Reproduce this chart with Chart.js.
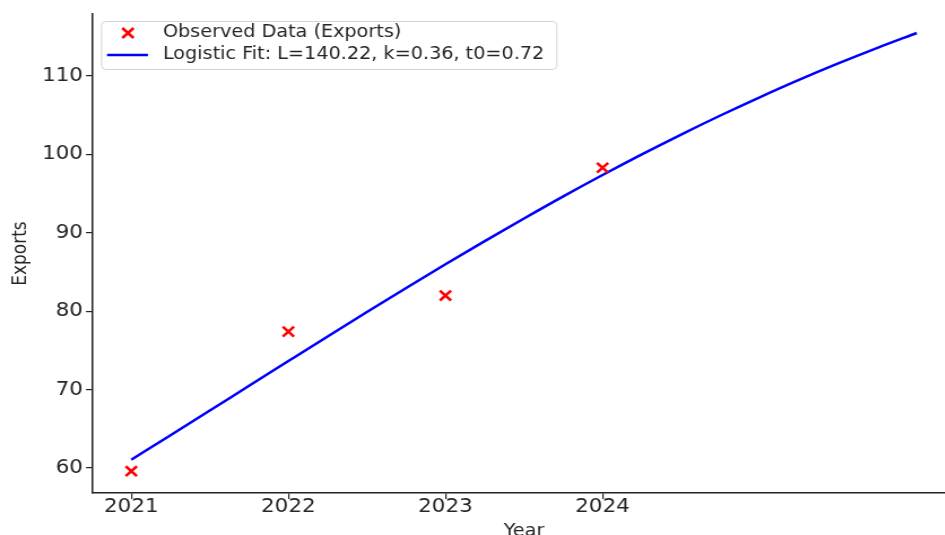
<!DOCTYPE html>
<html>
<head>
<meta charset="utf-8">
<script src="https://cdn.jsdelivr.net/npm/chart.js@4/dist/chart.umd.min.js"></script>
<style>
  html, body { margin: 0; padding: 0; background: #ffffff; overflow: hidden; }
  /* drawing surface is widened on screen; the right margin runs past the window */
  canvas { display: block; width: 956px !important; height: 545px !important; }
</style>
</head>
<body>
<canvas id="chart" width="846" height="545"></canvas>
<script>
// Observed exports per year
const obsYears = [2021, 2022, 2023, 2024];
const obsExports = [59.6, 77.4, 82.0, 98.3];

// Logistic fit curve, sampled every quarter year
const fitYears = [2021, 2021.25, 2021.5, 2021.75, 2022, 2022.25, 2022.5, 2022.75,
                  2023, 2023.25, 2023.5, 2023.75, 2024, 2024.25, 2024.5, 2024.75,
                  2025, 2025.25, 2025.5, 2025.75, 2026];
const fitExports = [61.07, 64.19, 67.34, 70.49, 73.64, 76.78, 79.89, 82.96,
                    85.98, 88.94, 91.83, 94.65, 97.37, 100.00, 102.53, 104.96,
                    107.28, 109.50, 111.60, 113.59, 115.48];

// Axis ticks
const xTicks = [2021, 2022, 2023, 2024];
const yTicks = [60, 70, 80, 90, 100, 110];

const obsLabel = 'Observed Data (Exports)';
const fitLabel = 'Logistic Fit: L=140.22, k=0.36, t0=0.72';

const FONT = "'DejaVu Sans', 'Liberation Sans', sans-serif";
const TEXT = '#262626';

// Boxed legend in the upper-left corner of the plot area
const boxLegend = {
  id: 'boxLegend',
  afterDraw(chart) {
    const ctx = chart.ctx;
    const ds = chart.data.datasets;
    const x0 = 89.3, y0 = 21, w = 403, h = 48, r = 4;
    ctx.save();
    ctx.beginPath();
    ctx.roundRect(x0 + 0.5, y0 + 0.5, w, h, r);
    ctx.fillStyle = 'rgba(255,255,255,0.85)';
    ctx.fill();
    ctx.strokeStyle = '#d4d4d4';
    ctx.lineWidth = 1;
    ctx.stroke();

    ctx.font = '17px ' + FONT;
    ctx.fillStyle = TEXT;
    ctx.textBaseline = 'middle';
    ctx.textAlign = 'left';

    const r1 = 33, r2 = 55, mx = 113.2, tx = 144.2;
    // row 1: cross marker
    ctx.strokeStyle = ds[0].borderColor;
    ctx.lineWidth = 2.5;
    ctx.beginPath();
    ctx.moveTo(mx - 5, r1 - 5); ctx.lineTo(mx + 5, r1 + 5);
    ctx.moveTo(mx + 5, r1 - 5); ctx.lineTo(mx - 5, r1 + 5);
    ctx.stroke();
    ctx.fillText(ds[0].label, tx, r1);

    // row 2: line sample
    ctx.strokeStyle = ds[1].borderColor;
    ctx.lineWidth = 2.5;
    ctx.beginPath();
    ctx.moveTo(94.7, r2); ctx.lineTo(130.9, r2);
    ctx.stroke();
    ctx.fillText(ds[1].label, tx, r2);
    ctx.restore();
  }
};

new Chart(document.getElementById('chart'), {
  data: {
    datasets: [
      {
        type: 'scatter',
        label: obsLabel,
        data: obsYears.map((y, i) => ({ x: y, y: obsExports[i] })),
        pointStyle: 'crossRot',
        pointRadius: 7,
        pointHoverRadius: 7,
        borderColor: '#ff0000',
        backgroundColor: '#ff0000',
        pointBorderWidth: 2.5
      },
      {
        type: 'line',
        label: fitLabel,
        data: fitYears.map((y, i) => ({ x: y, y: fitExports[i] })),
        borderColor: '#0000ff',
        backgroundColor: '#0000ff',
        borderWidth: 2.5,
        pointRadius: 0,
        cubicInterpolationMode: 'monotone',
        fill: false
      }
    ]
  },
  options: {
    responsive: false,
    animation: false,
    events: [],
    layout: { autoPadding: false, padding: { top: 13, right: 0, bottom: 0, left: 0 } },
    plugins: {
      legend: { display: false },
      tooltip: { enabled: false }
    },
    scales: {
      x: {
        type: 'linear',
        min: 2020.75,
        max: 2026.25,
        afterBuildTicks: (s) => { s.ticks = xTicks.map(v => ({ value: v })); },
        afterFit: (s) => { s.height = 52; },
        grid: { display: true, drawOnChartArea: false, drawTicks: true, tickLength: 6, color: '#222', lineWidth: 1.2 },
        border: { display: true, color: '#222', width: 1.5 },
        ticks: {
          color: TEXT,
          font: { family: FONT, size: 19 },
          padding: -3,
          maxRotation: 0,
          callback: (v) => String(v)
        },
        title: {
          display: true,
          text: 'Year',
          color: TEXT,
          font: { family: FONT, size: 17 },
          padding: { top: 0, bottom: 3 }
        }
      },
      y: {
        type: 'linear',
        min: 56.82,
        max: 117.89,
        afterBuildTicks: (s) => { s.ticks = yTicks.map(v => ({ value: v })); },
        afterFit: (s) => { s.width = 81.4; },
        grid: { display: true, drawOnChartArea: false, drawTicks: true, tickLength: 5.3, color: '#222', lineWidth: 1.2 },
        border: { display: true, color: '#222', width: 1.5 },
        ticks: {
          color: TEXT,
          font: { family: FONT, size: 19 },
          padding: 2.7,
          callback: (v) => String(v)
        },
        title: {
          display: true,
          text: 'Exports',
          color: TEXT,
          font: { family: FONT, size: 17 },
          padding: { top: 8, bottom: 0 }
        }
      }
    }
  },
  plugins: [boxLegend]
});
</script>
</body>
</html>
